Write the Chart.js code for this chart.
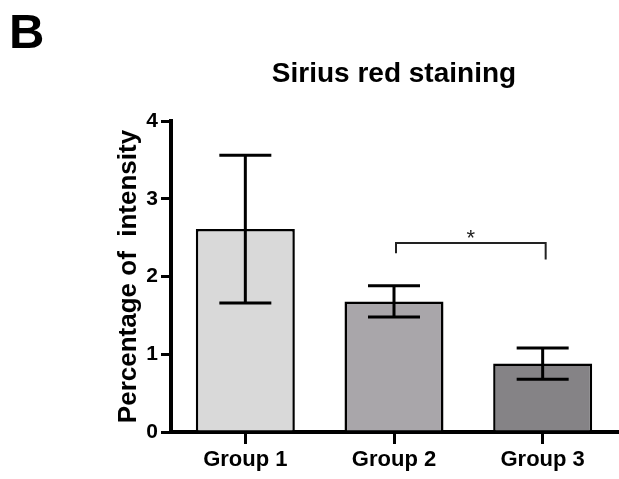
<!DOCTYPE html>
<html>
<head>
<meta charset="utf-8">
<style>
  html, body { margin: 0; padding: 0; background: #fff; }
  #wrap { width: 619px; height: 479px; }
</style>
<script src="https://cdn.jsdelivr.net/npm/chart.js@4"></script>
</head>
<body>
<div id="wrap"><canvas id="c" width="619" height="479"></canvas></div>
<script>
// Sirius red staining: mean intensity per group with SEM error bars
const categories = ['Group 1', 'Group 2', 'Group 3'];
const means = [2.61, 1.68, 0.88];
const sems = [0.95, 0.20, 0.20];
const barColors = ['#d9d9d9', '#a9a6aa', '#858386'];
const yTicks = [0, 1, 2, 3, 4];

// significance bracket between Group 2 and Group 3
const sigPair = [1, 2];
const sigLevel = 2.43;
const sigDropLeft = 0.13;
const sigDropRight = 0.21;
const sigLabel = '*';

const panelLabel = 'B';
const chartTitle = 'Sirius red staining';
const yTitle = 'Percentage of  intensity';

const FONT = "'Liberation Sans', Arial, Helvetica, sans-serif";

const errorBars = {
  id: 'errorBars',
  afterDatasetsDraw(chart) {
    const { ctx, scales: { y } } = chart;
    const meta = chart.getDatasetMeta(0);
    ctx.save();
    ctx.strokeStyle = '#000';
    ctx.lineWidth = 3;
    ctx.lineCap = 'butt';
    meta.data.forEach((bar, i) => {
      const x = bar.x;
      const top = y.getPixelForValue(means[i] + sems[i]);
      const bot = y.getPixelForValue(means[i] - sems[i]);
      const half = 26;
      ctx.beginPath();
      ctx.moveTo(x, top); ctx.lineTo(x, bot);
      ctx.moveTo(x - half, top); ctx.lineTo(x + half, top);
      ctx.moveTo(x - half, bot); ctx.lineTo(x + half, bot);
      ctx.stroke();
    });
    ctx.restore();
  }
};

const sigBracket = {
  id: 'sigBracket',
  afterDatasetsDraw(chart) {
    const { ctx, scales: { x, y } } = chart;
    const x1 = x.getPixelForValue(sigPair[0]) + 2;
    const x2 = x.getPixelForValue(sigPair[1]) + 3;
    const yb = y.getPixelForValue(sigLevel);
    ctx.save();
    ctx.strokeStyle = '#222';
    ctx.lineWidth = 2;
    ctx.beginPath();
    ctx.moveTo(x1, y.getPixelForValue(sigLevel - sigDropLeft));
    ctx.lineTo(x1, yb); ctx.lineTo(x2, yb);
    ctx.lineTo(x2, y.getPixelForValue(sigLevel - sigDropRight));
    ctx.stroke();
    ctx.fillStyle = '#222';
    ctx.font = '22px ' + FONT;
    ctx.textAlign = 'center';
    ctx.textBaseline = 'alphabetic';
    ctx.fillText(sigLabel, (x1 + x2) / 2, yb + 2);
    ctx.restore();
  }
};

const headings = {
  id: 'headings',
  afterDraw(chart) {
    const { ctx, chartArea } = chart;
    ctx.save();
    ctx.fillStyle = '#000';
    ctx.textBaseline = 'alphabetic';
    ctx.textAlign = 'left';
    ctx.font = 'bold 49px ' + FONT;
    ctx.fillText(panelLabel, 9, 48);
    ctx.textAlign = 'center';
    ctx.font = 'bold 28px ' + FONT;
    ctx.fillText(chartTitle, (chartArea.left + chartArea.right) / 2, 82);
    ctx.restore();
  }
};

new Chart(document.getElementById('c'), {
  type: 'bar',
  data: {
    labels: categories,
    datasets: [{
      data: means,
      backgroundColor: barColors,
      borderColor: '#000',
      borderWidth: 2.5,
      borderSkipped: 'start',
      categoryPercentage: 1,
      barPercentage: 0.666
    }]
  },
  options: {
    responsive: false,
    animation: false,
    devicePixelRatio: 1,
    layout: { padding: { top: 121, left: 113, right: 2, bottom: 0 } },
    plugins: { legend: { display: false }, tooltip: { enabled: false }, title: { display: false } },
    scales: {
      x: {
        offset: true,
        grid: { offset: false, drawOnChartArea: false, color: '#000', lineWidth: 3, tickLength: 12 },
        border: { display: true, color: '#000', width: 4 },
        ticks: { color: '#000', padding: 3, font: { family: FONT, size: 22, weight: 'bold' } },
        afterFit(scale) { scale.height = 47; }
      },
      y: {
        min: 0, max: 4,
        afterBuildTicks(scale) { scale.ticks = yTicks.map(v => ({ value: v })); },
        grid: { drawOnChartArea: false, color: '#000', lineWidth: 3, tickLength: 10 },
        border: { display: true, color: '#000', width: 4 },
        ticks: { color: '#000', padding: 3, font: { family: FONT, size: 21, weight: 'bold' } },
        title: {
          display: true, text: yTitle, color: '#000', padding: { top: 0, bottom: 0 },
          font: { family: FONT, size: 26, weight: 'bold' }
        },
        afterFit(scale) { scale.width = 58; }
      }
    }
  },
  plugins: [errorBars, sigBracket, headings]
});
</script>
</body>
</html>
